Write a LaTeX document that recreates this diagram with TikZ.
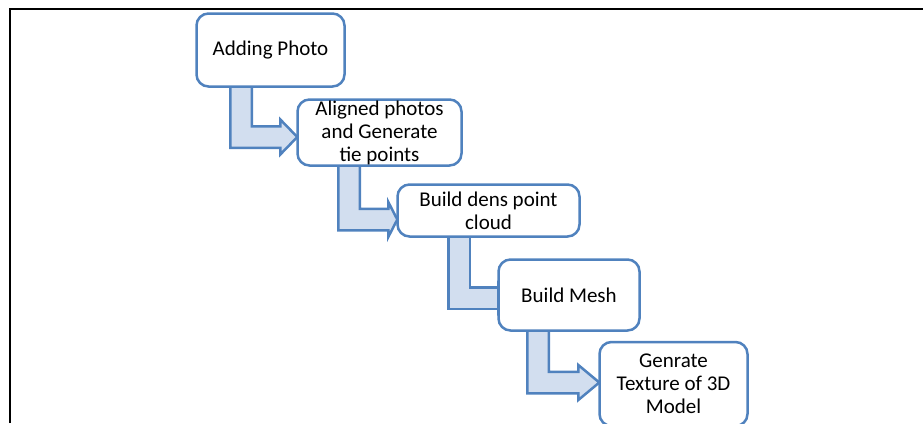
\documentclass[tikz,border=0pt]{standalone}
\usepackage{fontspec}
\setmainfont{Carlito}
\usetikzlibrary{calc}
\definecolor{bdr}{RGB}{80,130,190}
\definecolor{afill}{RGB}{210,222,239}
\tikzset{
  stepbox/.style={draw=bdr, line width=2.5pt, rounded corners=12pt, fill=white,
    align=center, inner sep=0pt, outer sep=0pt,
    font=\fontsize{21}{23}\selectfont},
  bentarr/.style={draw=bdr, line width=2.5pt, fill=afill, line join=miter},
  frameline/.style={draw=black, line width=2pt}
}
% #1 from node, #2 to node, #3 shaft left offset, #4 centre offset (down), #5 head length
\newcommand\bentarrow[5]{%
  \path[bentarr] let \p1=(#1.south west), \p2=(#2.west) in
    (\x1+#3pt, \y1) -- (\x1+#3pt, \y2-#4pt-10.75pt)
    -- (\x2-#5pt, \y2-#4pt-10.75pt) -- (\x2-#5pt, \y2-#4pt-17.5pt)
    -- (\x2, \y2-#4pt) -- (\x2-#5pt, \y2-#4pt+17.5pt)
    -- (\x2-#5pt, \y2-#4pt+10.75pt) -- (\x1+#3pt+21.5pt, \y2-#4pt+10.75pt)
    -- (\x1+#3pt+21.5pt, \y1) -- cycle;}
\begin{document}
\begin{tikzpicture}[x=1pt,y=-1pt]
\useasboundingbox (0,0) rectangle (923,423);
\coordinate (fb) at (10,423);
\coordinate (fc) at (10,9);
\coordinate (fr) at (923,9);
\draw[frameline] (fb) -- (fc) -- (fr);
% nodes (positions only, drawn later on top)
\path node[minimum width=148pt, minimum height=73pt] (n1) at (270.5,50) {};
\path node[minimum width=164pt, minimum height=66pt] (n2) at (379.5,132.5) {};
\path node[minimum width=182pt, minimum height=52pt] (n3) at (488.5,210.5) {};
\path node[minimum width=141pt, minimum height=71pt] (n4) at (569,295) {};
\path node[minimum width=148pt, minimum height=84pt] (n5) at (673.5,384) {};
\bentarrow{n1}{n2}{34}{4.5}{17}
\bentarrow{n2}{n3}{41}{9}{9}
\bentarrow{n3}{n4}{51}{3}{0}
\bentarrow{n4}{n5}{29}{-1.5}{21}
\node[stepbox, minimum width=148pt, minimum height=73pt] (b1) at (n1) {Adding Photo};
\node[stepbox, minimum width=164pt, minimum height=66pt] (b2) at (n2) {Aligned photos\\and Generate\\tie points};
\node[stepbox, minimum width=182pt, minimum height=52pt] (b3) at (n3) {Build dens point\\cloud};
\node[stepbox, minimum width=141pt, minimum height=71pt] (b4) at (n4) {Build Mesh};
\node[stepbox, minimum width=148pt, minimum height=84pt] (b5) at (n5) {Genrate\\Texture of 3D\\Model};
\end{tikzpicture}
\end{document}
